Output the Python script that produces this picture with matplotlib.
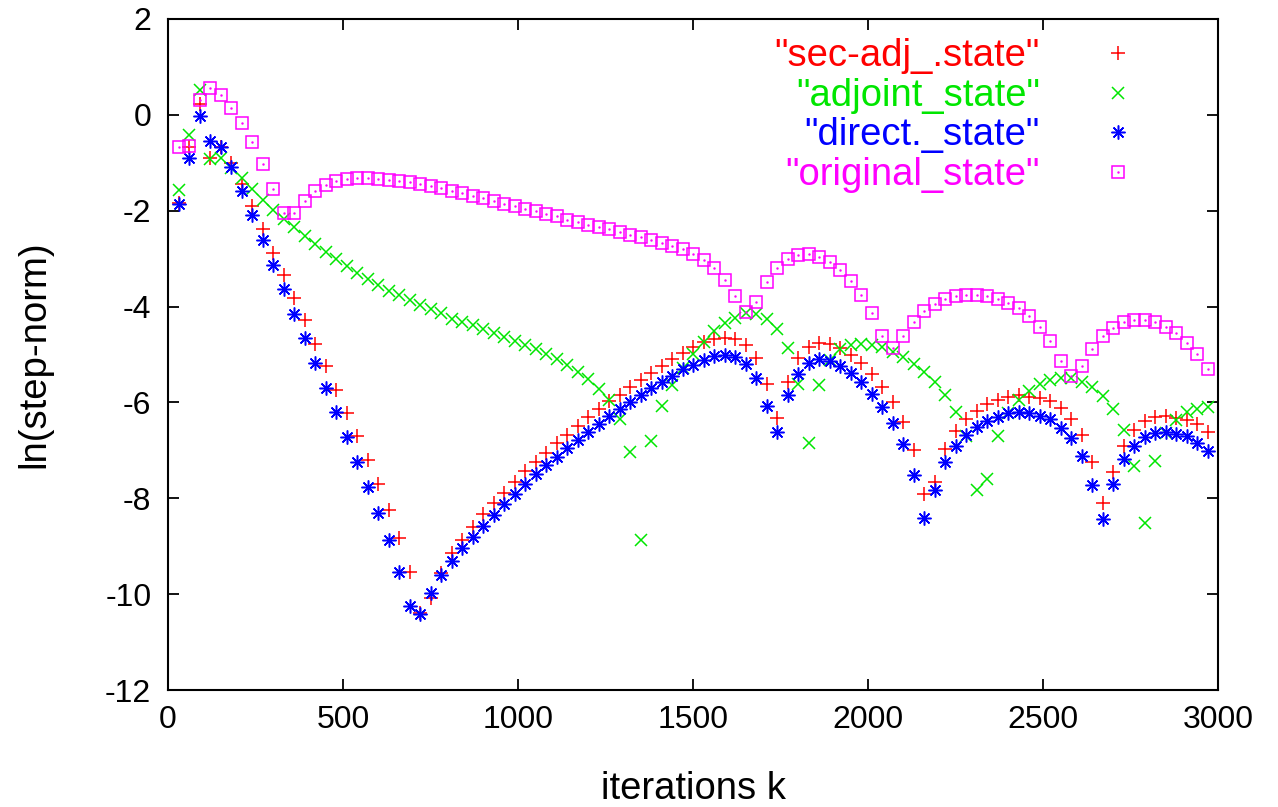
import matplotlib
matplotlib.use('Agg')
import matplotlib.pyplot as plt
from matplotlib.lines import Line2D

# iteration numbers (every 30 iterations)
iterations = list(range(30, 3000, 30))

sec_adj_state = [
    -1.83, -0.68, 0.22, -0.89, -0.68, -1.01, -1.45, -1.91, -2.39, -2.88,
    -3.34, -3.82, -4.29, -4.78, -5.25, -5.74, -6.23, -6.71, -7.20, -7.71,
    -8.24, -8.83, -9.53, -10.40, -10.09, -9.55, -9.15, -8.86, -8.59, -8.33,
    -8.10, -7.88, -7.65, -7.44, -7.25, -7.05, -6.85, -6.67, -6.49, -6.31,
    -6.14, -5.97, -5.84, -5.68, -5.53, -5.38, -5.24, -5.10, -4.97, -4.85,
    -4.73, -4.68, -4.65, -4.68, -4.80, -5.07, -5.62, -6.33, -5.58, -5.08,
    -4.85, -4.77, -4.78, -4.87, -5.00, -5.18, -5.41, -5.67, -6.00, -6.41,
    -6.99, -7.92, -7.65, -6.98, -6.60, -6.35, -6.17, -6.03, -5.95, -5.89,
    -5.84, -5.88, -5.90, -5.98, -6.12, -6.35, -6.68, -7.25, -8.10, -7.46,
    -6.91, -6.58, -6.38, -6.30, -6.28, -6.33, -6.37, -6.45, -6.61]

adjoint_state = [
    -1.57, -0.41, 0.52, -0.93, -0.89, -1.10, -1.32, -1.55, -1.78, -1.98,
    -2.17, -2.35, -2.53, -2.70, -2.86, -3.00, -3.15, -3.29, -3.43, -3.56,
    -3.67, -3.75, -3.86, -3.96, -4.05, -4.14, -4.25, -4.33, -4.38, -4.47,
    -4.55, -4.63, -4.71, -4.80, -4.89, -4.98, -5.09, -5.22, -5.36, -5.52,
    -5.72, -5.95, -6.35, -7.03, -8.86, -6.80, -6.08, -5.64, -5.29, -4.98,
    -4.73, -4.50, -4.35, -4.23, -4.14, -4.16, -4.26, -4.47, -4.87, -5.62,
    -6.85, -5.64, -5.11, -4.89, -4.80, -4.78, -4.80, -4.85, -4.94, -5.06,
    -5.20, -5.37, -5.58, -5.84, -6.20, -6.71, -7.82, -7.60, -6.70, -6.23,
    -5.95, -5.76, -5.61, -5.53, -5.50, -5.50, -5.57, -5.68, -5.87, -6.14,
    -6.57, -7.32, -8.52, -7.22, -6.64, -6.37, -6.20, -6.13, -6.10]

direct_state = [
    -1.87, -0.91, -0.02, -0.55, -0.68, -1.09, -1.59, -2.08, -2.61, -3.13,
    -3.64, -4.15, -4.66, -5.18, -5.69, -6.21, -6.73, -7.25, -7.77, -8.31,
    -8.88, -9.53, -10.24, -10.41, -9.98, -9.61, -9.30, -9.04, -8.81, -8.57,
    -8.35, -8.12, -7.91, -7.70, -7.49, -7.31, -7.13, -6.96, -6.78, -6.62,
    -6.46, -6.28, -6.14, -6.00, -5.84, -5.70, -5.57, -5.44, -5.31, -5.21,
    -5.11, -5.04, -5.02, -5.05, -5.20, -5.48, -6.07, -6.62, -5.84, -5.41,
    -5.18, -5.10, -5.14, -5.25, -5.38, -5.58, -5.82, -6.09, -6.42, -6.87,
    -7.51, -8.41, -7.82, -7.25, -6.91, -6.68, -6.51, -6.38, -6.30, -6.23,
    -6.21, -6.23, -6.28, -6.35, -6.53, -6.75, -7.12, -7.72, -8.44, -7.70,
    -7.18, -6.91, -6.73, -6.63, -6.61, -6.66, -6.71, -6.84, -7.01]

original_state = [
    -0.68, -0.64, 0.30, 0.55, 0.41, 0.15, -0.18, -0.57, -1.02, -1.55,
    -2.05, -2.05, -1.79, -1.59, -1.46, -1.38, -1.33, -1.31, -1.31, -1.33,
    -1.35, -1.37, -1.41, -1.44, -1.48, -1.53, -1.58, -1.62, -1.69, -1.73,
    -1.79, -1.85, -1.90, -1.96, -2.01, -2.07, -2.12, -2.19, -2.24, -2.29,
    -2.34, -2.39, -2.44, -2.50, -2.55, -2.61, -2.67, -2.73, -2.80, -2.91,
    -3.03, -3.20, -3.44, -3.78, -4.11, -3.90, -3.49, -3.20, -3.01, -2.93,
    -2.91, -2.96, -3.08, -3.24, -3.47, -3.76, -4.14, -4.61, -4.86, -4.62,
    -4.32, -4.09, -3.94, -3.84, -3.78, -3.75, -3.75, -3.78, -3.84, -3.92,
    -4.04, -4.20, -4.42, -4.72, -5.13, -5.45, -5.25, -4.89, -4.62, -4.44,
    -4.33, -4.28, -4.28, -4.33, -4.42, -4.55, -4.75, -4.99, -5.31]

labels = ['"sec-adj_.state"', '"adjoint_state"', '"direct._state"', '"original_state"']
colors = ['#ff0000', '#00e600', '#0000ff', '#ff00ff']

plt.rcParams['font.family'] = ['Liberation Sans', 'DejaVu Sans']
plt.rcParams['axes.unicode_minus'] = False
TICK_FS = 23
LABEL_FS = 27.5

W, H = 1278, 807
fig = plt.figure(figsize=(W / 100, H / 100), dpi=100)
ax = fig.add_axes([168 / W, 1 - 690 / H, 1050 / W, 671 / H])

styles = [
    dict(marker='+', ms=9.5, mew=1.1, color=colors[0]),
    dict(marker='x', ms=8.5, mew=1.1, color=colors[1]),
    dict(marker=(8, 2, 0), ms=10, mew=1.1, color=colors[2]),
    dict(marker='s', ms=8.3, mew=1.1, mfc='none', mec=colors[3], color=colors[3]),
]
series = [sec_adj_state, adjoint_state, direct_state, original_state]
for vals, st in zip(series, styles):
    ax.plot(iterations, vals, linestyle='none', **st)
# centre dot of the gnuplot box symbol
ax.plot(iterations, original_state, linestyle='none', marker='.', ms=1.5,
        color=colors[3])

ax.set_xlim(0, 3000)
ax.set_ylim(-12, 2)
ax.set_xticks(range(0, 3001, 500))
ax.set_yticks(range(-12, 3, 2))
ax.tick_params(direction='in', top=True, right=True, length=8, width=1.3,
               labelsize=TICK_FS)
ax.tick_params(axis='y', pad=12)
ax.tick_params(axis='x', pad=11)
for s in ax.spines.values():
    s.set_linewidth(1.5)

ax.set_xlabel('iterations k', fontsize=LABEL_FS)
ax.xaxis.set_label_coords(0.5, (690 - 771) / 671)
ax.set_ylabel('ln(step-norm)', fontsize=LABEL_FS)
ax.yaxis.set_label_coords((52 - 168) / 1050, 0.5)

# gnuplot-style key: right-aligned coloured text, symbol to the right
for i, (lab, c, st) in enumerate(zip(labels, colors, styles)):
    ymark = 53 + 39.7 * i
    fig.text(1040 / W, 1 - (ymark + 13) / H, lab, color=c, fontsize=LABEL_FS,
             ha='right', va='baseline')
    fig.add_artist(Line2D([1118 / W], [1 - ymark / H], linestyle='none',
                          transform=fig.transFigure, **st))
    if i == 3:
        fig.add_artist(Line2D([1118 / W], [1 - ymark / H], linestyle='none',
                              marker='.', ms=1.5, color=c,
                              transform=fig.transFigure))

fig.savefig('out.png', dpi=100)
